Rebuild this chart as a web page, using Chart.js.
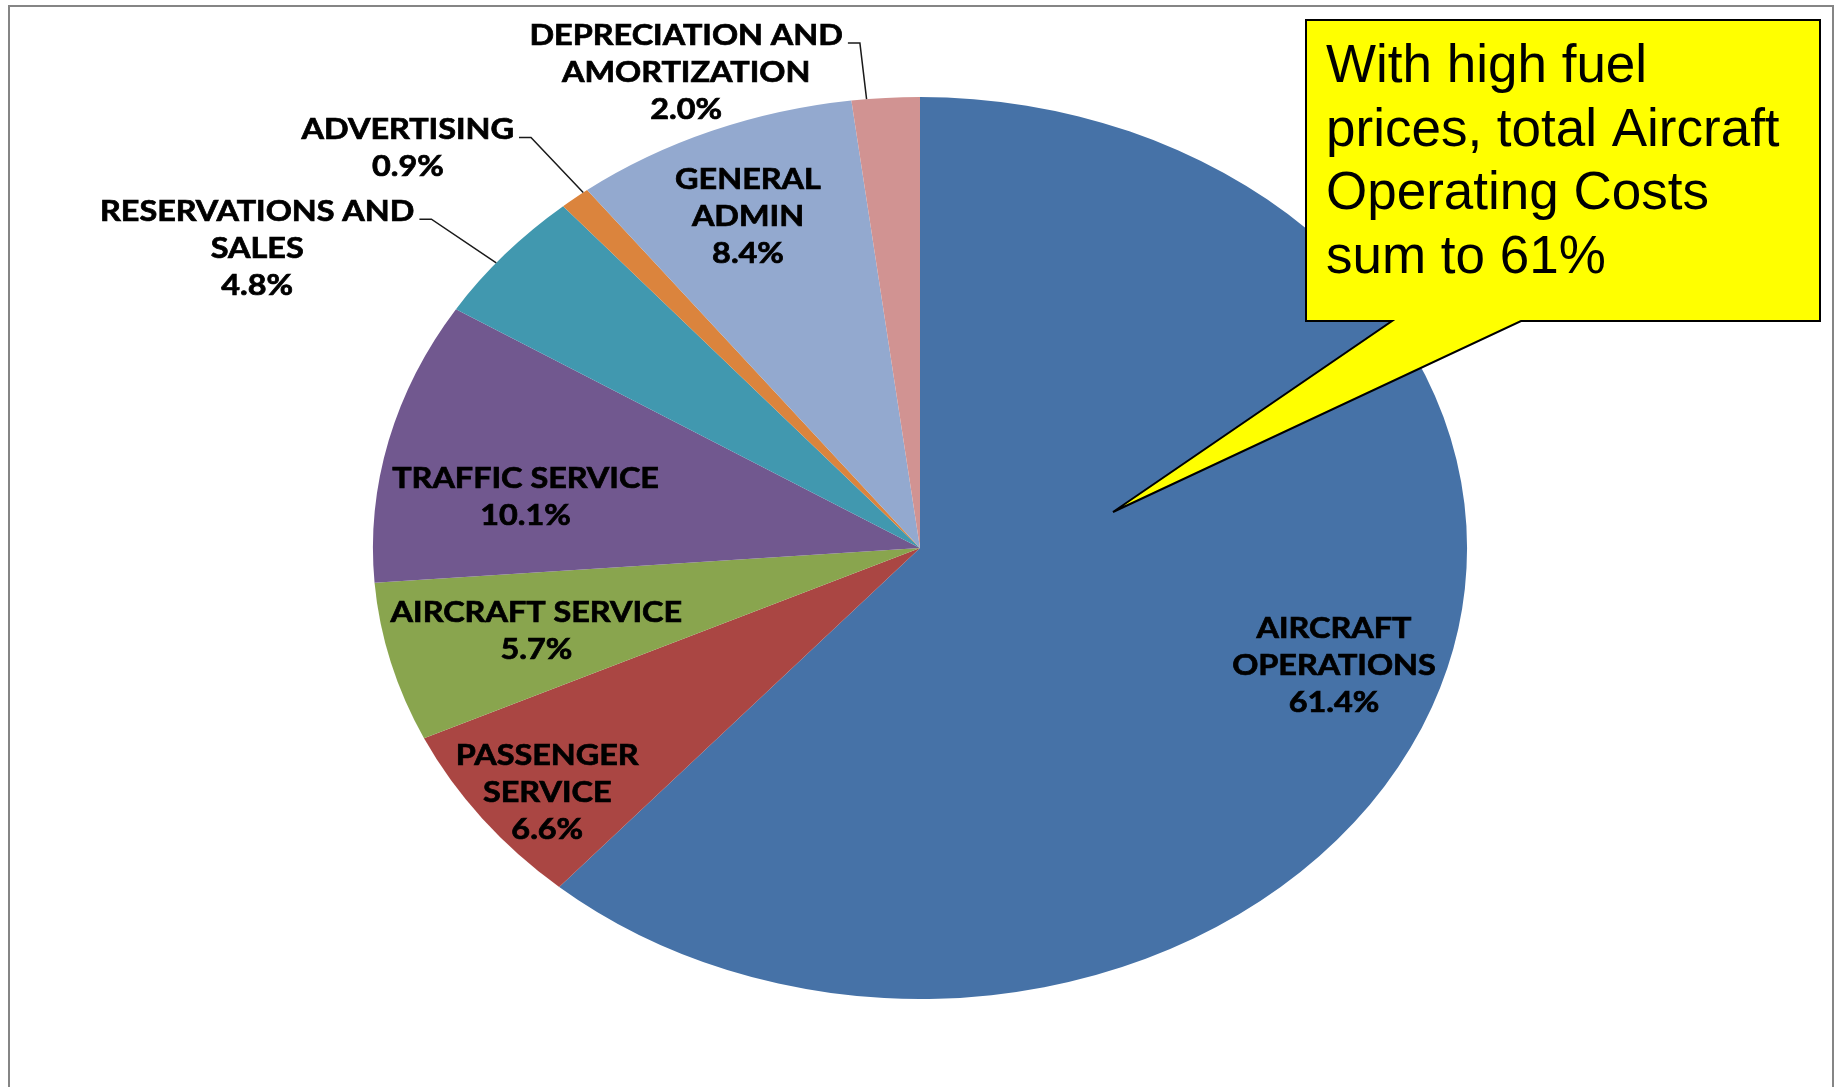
<!DOCTYPE html>
<html>
<head>
<meta charset="utf-8">
<script src="https://cdn.jsdelivr.net/npm/chart.js@4.4.0/dist/chart.umd.min.js"></script>
<style>
  html, body { margin: 0; padding: 0; background: #fff; }
  #wrap { width: 1837px; height: 1087px; }
</style>
</head>
<body>
<div id="wrap"><canvas id="costs" width="1837" height="1087"></canvas></div>
<script>
// airline operating cost breakdown, % of total
const categories = [
  'AIRCRAFT OPERATIONS', 'PASSENGER SERVICE', 'AIRCRAFT SERVICE', 'TRAFFIC SERVICE',
  'RESERVATIONS AND SALES', 'ADVERTISING', 'GENERAL ADMIN', 'DEPRECIATION AND AMORTIZATION'
];
const shares = [61.4, 6.6, 5.7, 10.1, 4.8, 0.9, 8.4, 2.0];
// how each category name is broken over lines
const labelLines = [
  ['AIRCRAFT', 'OPERATIONS'], ['PASSENGER', 'SERVICE'], ['AIRCRAFT SERVICE'], ['TRAFFIC SERVICE'],
  ['RESERVATIONS AND', 'SALES'], ['ADVERTISING'], ['GENERAL', 'ADMIN'], ['DEPRECIATION AND', 'AMORTIZATION']
];
const sliceColors = ['#4672A7', '#AA4643', '#89A54E', '#71588F', '#4198AF', '#DB843D', '#93A9CF', '#D19392'];

// label placement: fraction of radius, angle nudge (deg), outside with leader line
const labelRadius = [0.80, 0.87, 0.725, 0.73, 1.153, 1.155, 0.80, 1.125];
const labelNudge  = [-1.7, -1.6, 0, -4.8, -1.4, 1.1, -0.8, -2.0];
const labelOutside = [false, false, false, false, true, true, false, true];

const calloutLines = ['With high fuel', 'prices, total Aircraft', 'Operating Costs', 'sum to 61%'];

const STRETCH = 1.213;      // pie is drawn wider than tall
const TEXT_STRETCH = 1.156; // labels get a little less
const LABEL_FONT = 'bold 28px Lato, "Open Sans", sans-serif';
const LINE_H = 37;

const stretchPlugin = {
  id: 'stretch',
  beforeDatasetsDraw(chart) {
    const arc = chart.getDatasetMeta(0).data[0];
    const ctx = chart.ctx;
    ctx.save();
    ctx.translate(arc.x, arc.y);
    ctx.scale(STRETCH, 1);
    ctx.translate(-arc.x, -arc.y);
  },
  afterDatasetsDraw(chart) {
    chart.ctx.restore();
  }
};

const framePlugin = {
  id: 'frame',
  beforeDraw(chart) {
    const ctx = chart.ctx;
    ctx.save();
    ctx.fillStyle = '#fff';
    ctx.fillRect(0, 0, chart.width, chart.height);
    ctx.strokeStyle = '#858585';
    ctx.lineWidth = 2;
    ctx.strokeRect(9, 6, 1824, 1200);
    ctx.restore();
  }
};

function drawStretchedText(ctx, text, x, y) {
  ctx.save();
  ctx.translate(x, y);
  ctx.scale(TEXT_STRETCH, 1);
  ctx.fillText(text, 0, 0);
  ctx.strokeText(text, 0, 0);
  ctx.restore();
}

const labelPlugin = {
  id: 'sliceLabels',
  afterDatasetsDraw(chart) {
    const ctx = chart.ctx;
    const arcs = chart.getDatasetMeta(0).data;
    ctx.save();
    ctx.font = LABEL_FONT;
    ctx.fillStyle = '#000';
    ctx.textAlign = 'center';
    ctx.textBaseline = 'alphabetic';
    const capHalf = 10;

    arcs.forEach((arc, i) => {
      const cx = arc.x, cy = arc.y, r = arc.outerRadius;
      const mid = (arc.startAngle + arc.endAngle) / 2 + labelNudge[i] * Math.PI / 180;
      const px = cx + Math.cos(mid) * r * labelRadius[i] * STRETCH;
      const py = cy + Math.sin(mid) * r * labelRadius[i];
      const lines = labelLines[i].concat([shares[i].toFixed(1) + '%']);

      ctx.strokeStyle = '#000';
      ctx.lineWidth = 0.7;
      if (!labelOutside[i]) {
        const top = py - (lines.length - 1) * LINE_H / 2;
        lines.forEach((t, k) => drawStretchedText(ctx, t, px, top + k * LINE_H + capHalf));
        return;
      }

      // leader line from slice edge to elbow, short tick to the text
      const ex = cx + Math.cos(mid) * r * STRETCH;
      const ey = cy + Math.sin(mid) * r;
      ctx.save();
      ctx.strokeStyle = '#1a1a1a';
      ctx.lineWidth = 1.5;
      ctx.beginPath();
      ctx.moveTo(ex, ey);
      ctx.lineTo(px, py);
      ctx.lineTo(px - 12, py);
      ctx.stroke();
      ctx.restore();

      const firstW = ctx.measureText(lines[0]).width * TEXT_STRETCH;
      const centerX = px - 17 - firstW / 2;
      const firstY = py - 8.5;
      lines.forEach((t, k) => drawStretchedText(ctx, t, centerX, firstY + k * LINE_H + capHalf));
    });
    ctx.restore();
  }
};

const calloutPlugin = {
  id: 'callout',
  afterDraw(chart) {
    const ctx = chart.ctx;
    ctx.save();
    ctx.beginPath();
    ctx.moveTo(1306, 20);
    ctx.lineTo(1820, 20);
    ctx.lineTo(1820, 321);
    ctx.lineTo(1521, 321);
    ctx.lineTo(1113, 512);
    ctx.lineTo(1392, 321);
    ctx.lineTo(1306, 321);
    ctx.closePath();
    ctx.fillStyle = '#FFFF00';
    ctx.fill();
    ctx.strokeStyle = '#000';
    ctx.lineWidth = 2;
    ctx.lineJoin = 'miter';
    ctx.stroke();

    ctx.fillStyle = '#000';
    ctx.font = '53px "Liberation Sans", Arial, sans-serif';
    ctx.textAlign = 'left';
    ctx.textBaseline = 'alphabetic';
    calloutLines.forEach((t, k) => ctx.fillText(t, 1326, 82 + k * 63.5));
    ctx.restore();
  }
};

new Chart(document.getElementById('costs'), {
  type: 'pie',
  data: {
    labels: categories,
    datasets: [{
      data: shares,
      backgroundColor: sliceColors,
      borderWidth: 0,
      hoverOffset: 0,
      offset: 0
    }]
  },
  options: {
    responsive: false,
    animation: false,
    events: [],
    layout: {
      padding: { left: 469, right: 466, top: 97, bottom: 88 }
    },
    plugins: {
      legend: { display: false },
      tooltip: { enabled: false }
    }
  },
  plugins: [framePlugin, stretchPlugin, labelPlugin, calloutPlugin]
});
</script>
</body>
</html>
